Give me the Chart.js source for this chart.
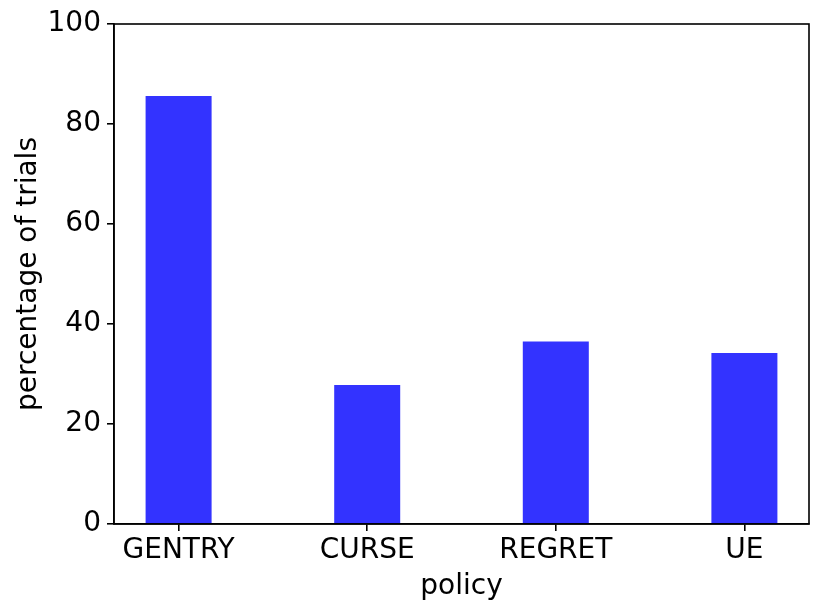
<!DOCTYPE html>
<html>
<head>
<meta charset="utf-8">
<script src="https://cdn.jsdelivr.net/npm/chart.js@4/dist/chart.umd.min.js"></script>
<style>
  html, body { margin: 0; padding: 0; background: #fff; }
  #wrap { width: 830px; height: 613px; }
</style>
</head>
<body>
<div id="wrap"><canvas id="grafico" width="830" height="613"></canvas></div>
<script>
const politicas = ['GENTRY', 'CURSE', 'REGRET', 'UE'];
const percentuais = [85.6, 27.8, 36.5, 34.2];
const ticksY = [0, 20, 40, 60, 80, 100];

const fonte = { family: 'DejaVu Sans', size: 28 };

// caixa em volta da área do gráfico (estilo matplotlib)
const moldura = {
    id: 'moldura',
    afterDraw(chart) {
        const { ctx, chartArea: a } = chart;
        ctx.save();
        ctx.strokeStyle = '#000';
        ctx.lineWidth = 1.6;
        ctx.strokeRect(a.left, a.top, a.right - a.left, a.bottom - a.top);
        ctx.restore();
    }
};

const ctx = document.getElementById('grafico').getContext('2d');
new Chart(ctx, {
    type: 'bar',
    data: {
        datasets: [{
            data: percentuais.map((v, i) => ({ x: i, y: v })),
            backgroundColor: 'rgba(0, 0, 255, 0.8)',
            borderWidth: 0,
            barPercentage: 0.35,
            categoryPercentage: 1
        }]
    },
    options: {
        responsive: false,
        animation: false,
        layout: { padding: { top: 24, right: 21, left: 0, bottom: 0 } },
        plugins: { legend: { display: false }, tooltip: { enabled: false } },
        scales: {
            x: {
                type: 'linear',
                offset: false,
                min: -0.3425,
                max: 3.3425,
                afterBuildTicks: s => { s.ticks = politicas.map((_, i) => ({ value: i })); },
                afterFit: s => { s.height = 89; },
                ticks: {
                    color: '#000',
                    font: fonte,
                    padding: 3,
                    maxRotation: 0,
                    callback: v => politicas[v]
                },
                grid: { offset: false, drawOnChartArea: false, tickLength: 7, color: '#000', lineWidth: 1.6 },
                border: { color: '#000', width: 1.6 },
                title: { display: true, text: 'policy', color: '#000', font: fonte, padding: { top: 0, bottom: 9 } }
            },
            y: {
                min: 0,
                max: 100,
                afterBuildTicks: s => { s.ticks = ticksY.map(v => ({ value: v })); },
                afterFit: s => { s.width = 114; },
                ticks: { color: '#000', font: fonte, padding: 6 },
                grid: { drawOnChartArea: false, tickLength: 7, color: '#000', lineWidth: 1.6 },
                border: { color: '#000', width: 1.6 },
                title: { display: true, text: 'percentage of trials', color: '#000', font: fonte, padding: { top: 12, bottom: 0 } }
            }
        }
    },
    plugins: [moldura]
});
</script>
</body>
</html>
